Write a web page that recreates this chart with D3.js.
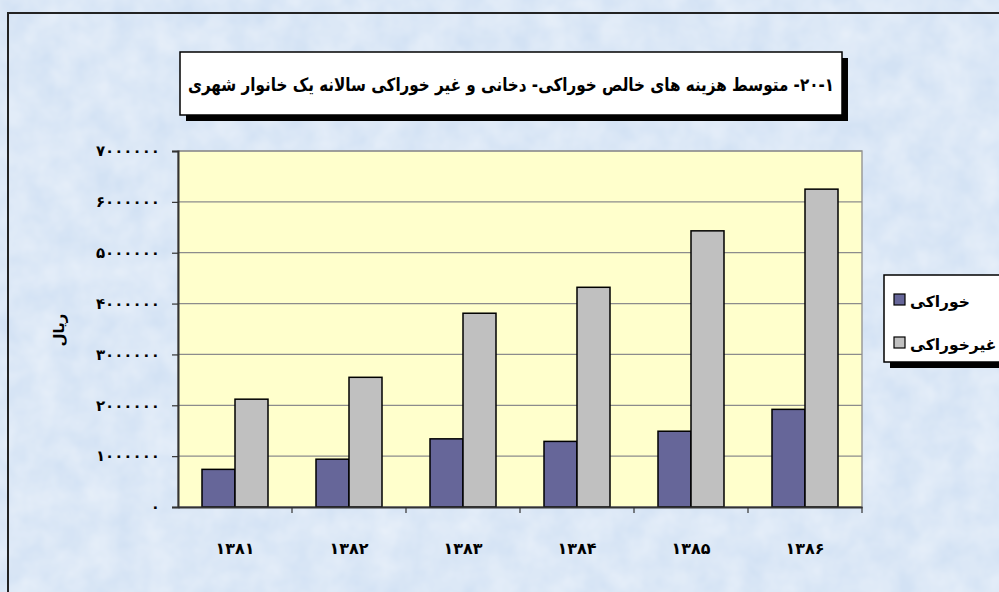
<!DOCTYPE html>
<html>
<head>
<meta charset="utf-8">
<script src="https://cdn.jsdelivr.net/npm/d3@7"></script>
<style>
  html, body { margin: 0; padding: 0; background: #dce8f6; overflow: hidden; }
  text { font-family: "DejaVu Sans", sans-serif; font-weight: bold; }
</style>
</head>
<body>
<script>
const width = 999, height = 592;
const margin = ({top: 151, right: 137, bottom: 85, left: 178});

// data
const years = ["1381", "1382", "1383", "1384", "1385", "1386"];
const seriesNames = ["خوراکی", "غیرخوراکی"];
const food = [740000, 940000, 1340000, 1290000, 1490000, 1920000];
const nonFood = [2120000, 2550000, 3810000, 4320000, 5430000, 6250000];
const yTicks = [0, 1000000, 2000000, 3000000, 4000000, 5000000, 6000000, 7000000];
const colors = ["#666699", "#c0c0c0"];

// RLM marks keep the "1-20-" number parts in right-to-left order
const title = "۱\u200F-\u200F۲۰\u200F-  متوسط هزینه های خالص خوراکی- دخانی و غیر خوراکی سالانه یک خانوار شهری";
const yTitle = "ریال";

const fa = s => String(s).replace(/\d/g, d => "۰۱۲۳۴۵۶۷۸۹"[d]);

const data = years.map((y, i) => ({year: y, values: [food[i], nonFood[i]]}));

const x0 = d3.scaleBand()
    .domain(years)
    .range([margin.left, width - margin.right]);

const x1 = d3.scaleBand()
    .domain([0, 1])
    .range([0, x0.bandwidth()])
    .paddingOuter(24 / 33);

const y = d3.scaleLinear()
    .domain([0, 7000000])
    .range([height - margin.bottom, margin.top]);

const svg = d3.select("body").append("svg")
    .attr("width", width)
    .attr("height", height);

// textured blue background
const defs = svg.append("defs");
const f = defs.append("filter").attr("id", "tex").attr("x", 0).attr("y", 0).attr("width", 1).attr("height", 1);
f.append("feTurbulence").attr("type", "fractalNoise").attr("baseFrequency", 0.035).attr("numOctaves", 3).attr("seed", 4);
f.append("feColorMatrix").attr("type", "matrix")
    .attr("values", "0 0 0 0 1  0 0 0 0 1  0 0 0 0 1  0 0 0 0.6 -0.1");

svg.append("rect").attr("width", width).attr("height", height).attr("fill", "#d3e2f4");
svg.append("rect").attr("width", width).attr("height", height).attr("filter", "url(#tex)");

// outer chart frame
svg.append("path")
    .attr("d", `M8,${height + 5}V13H${width + 5}`)
    .attr("fill", "none")
    .attr("stroke", "#222")
    .attr("stroke-width", 2);

// plot area
svg.append("rect")
    .attr("x", margin.left)
    .attr("y", margin.top)
    .attr("width", width - margin.right - margin.left)
    .attr("height", height - margin.bottom - margin.top)
    .attr("fill", "#ffffcc")
    .attr("stroke", "#9a9a9a")
    .attr("stroke-width", 1.5);

// gridlines
svg.append("g")
    .selectAll("line")
    .data(yTicks.slice(1))
    .join("line")
    .attr("x1", margin.left)
    .attr("x2", width - margin.right)
    .attr("y1", d => y(d))
    .attr("y2", d => y(d))
    .attr("stroke", "#8c8c8c")
    .attr("stroke-width", 1.2);

// bars
svg.append("g")
    .selectAll("g")
    .data(data)
    .join("g")
    .attr("transform", d => `translate(${x0(d.year)},0)`)
    .selectAll("rect")
    .data(d => d.values.map((v, i) => ({i, v})))
    .join("rect")
    .attr("x", d => x1(d.i))
    .attr("width", x1.bandwidth())
    .attr("y", d => y(d.v))
    .attr("height", d => y(0) - y(d.v))
    .attr("fill", d => colors[d.i])
    .attr("stroke", "#000")
    .attr("stroke-width", 1.5);

// y axis
const yAxis = svg.append("g")
    .attr("transform", `translate(${margin.left},0)`)
    .call(d3.axisLeft(y).tickValues(yTicks).tickSize(6).tickPadding(12).tickFormat(fa));
yAxis.select(".domain").attr("stroke", "#333").attr("stroke-width", 2);
yAxis.selectAll(".tick line").attr("stroke", "#333").attr("stroke-width", 1.2);
yAxis.selectAll(".tick text").attr("font-size", 15).attr("fill", "#000")
    .attr("font-family", "DejaVu Sans").attr("font-weight", "bold");

// x axis
const xAxis = svg.append("g")
    .attr("transform", `translate(0,${height - margin.bottom})`)
    .call(d3.axisBottom(x0).tickSize(0).tickPadding(36).tickFormat(fa));
xAxis.select(".domain").attr("stroke", "#333").attr("stroke-width", 2);
xAxis.selectAll(".tick text").attr("font-size", 16).attr("fill", "#000")
    .attr("font-family", "DejaVu Sans").attr("font-weight", "bold");
xAxis.append("g")
    .selectAll("line")
    .data(years)
    .join("line")
    .attr("x1", d => x0(d) + x0.bandwidth())
    .attr("x2", d => x0(d) + x0.bandwidth())
    .attr("y1", 0)
    .attr("y2", 6)
    .attr("stroke", "#333")
    .attr("stroke-width", 1.2);

// y title
svg.append("text")
    .attr("transform", `translate(64,330) rotate(-90)`)
    .attr("text-anchor", "middle")
    .attr("font-size", 15)
    .text(yTitle);

// title box
const tb = {x: 180, y: 52, w: 662, h: 63};
svg.append("rect")
    .attr("x", tb.x + 6).attr("y", tb.y + 6).attr("width", tb.w).attr("height", tb.h)
    .attr("fill", "#000");
svg.append("rect")
    .attr("x", tb.x).attr("y", tb.y).attr("width", tb.w).attr("height", tb.h)
    .attr("fill", "#fff").attr("stroke", "#000").attr("stroke-width", 1.5);
svg.append("text")
    .attr("x", tb.x + tb.w / 2)
    .attr("y", tb.y + tb.h / 2 + 7)
    .attr("direction", "rtl")
    .attr("text-anchor", "middle")
    .attr("font-size", 18)
    .attr("textLength", 646)
    .attr("lengthAdjust", "spacingAndGlyphs")
    .text(title);

// legend
const lb = {x: 884, y: 275, w: 130, h: 87};
svg.append("rect")
    .attr("x", lb.x + 6).attr("y", lb.y + 6).attr("width", lb.w).attr("height", lb.h)
    .attr("fill", "#000");
svg.append("rect")
    .attr("x", lb.x).attr("y", lb.y).attr("width", lb.w).attr("height", lb.h)
    .attr("fill", "#fff").attr("stroke", "#000").attr("stroke-width", 1.5);
const li = svg.append("g")
    .selectAll("g")
    .data(seriesNames)
    .join("g")
    .attr("transform", (d, i) => `translate(${lb.x + 10},${lb.y + 25 + i * 43})`);
li.append("rect")
    .attr("x", 0).attr("y", -6).attr("width", 11).attr("height", 11)
    .attr("fill", (d, i) => colors[i])
    .attr("stroke", "#000").attr("stroke-width", 1.2);
li.append("text")
    .attr("x", 16)
    .attr("y", 7)
    .attr("font-size", 15.5)
    .text(d => d);
</script>
</body>
</html>
